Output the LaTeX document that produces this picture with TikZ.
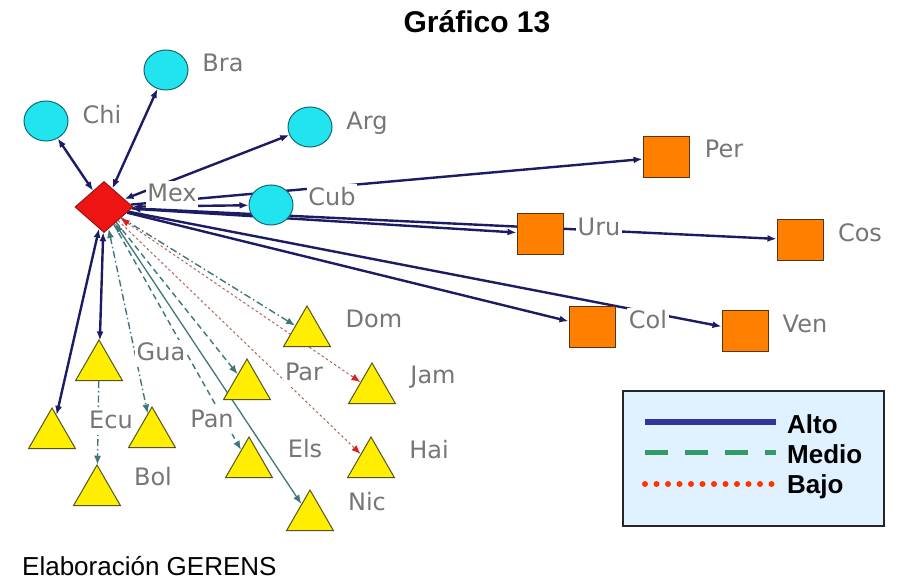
\documentclass[tikz,border=0pt]{standalone}
\usepackage{fontspec}
\newfontfamily\lblfont{DejaVu Sans}
\newfontfamily\arialfont{Liberation Sans}
\usetikzlibrary{shapes.geometric,arrows.meta}
\pgfdeclarelayer{bgfill}
\pgfdeclarelayer{edges}
\pgfdeclarelayer{lbls}
\pgfsetlayers{bgfill,edges,lbls,main}
\definecolor{navy}{RGB}{28,28,100}
\definecolor{tealedge}{RGB}{62,118,122}
\definecolor{redtip}{RGB}{220,30,30}
\definecolor{redline}{RGB}{175,100,95}
\definecolor{cyanfill}{RGB}{34,228,238}
\definecolor{cyanbord}{RGB}{20,105,115}
\definecolor{orangefill}{RGB}{255,128,0}
\definecolor{orangebord}{RGB}{90,50,20}
\definecolor{yellowfill}{RGB}{255,238,0}
\definecolor{yellowbord}{RGB}{85,85,30}
\definecolor{redfill}{RGB}{238,20,20}
\definecolor{redbord}{RGB}{150,20,20}
\definecolor{lblgray}{RGB}{118,118,118}
\definecolor{legfill}{RGB}{224,242,255}
\definecolor{legalto}{RGB}{51,51,153}
\definecolor{legmedio}{RGB}{51,153,102}
\definecolor{legbajo}{RGB}{255,51,0}
\begin{document}
\begin{tikzpicture}[x=1pt,y=-1pt,
  >={Latex[length=9pt,width=7pt]},
  mexshape/.style={diamond,draw=redbord,fill=redfill,line width=1pt,inner sep=0pt,minimum width=58pt,minimum height=51pt},
  circ/.style={ellipse,draw=cyanbord,fill=cyanfill,line width=1pt,inner sep=0pt,minimum width=44pt,minimum height=40pt},
  sq/.style={rectangle,draw=orangebord,fill=orangefill,line width=1pt,inner sep=0pt,minimum width=46pt,minimum height=41pt},
  tri/.style={regular polygon,regular polygon sides=3,draw=yellowbord,fill=yellowfill,line width=1pt,inner sep=0pt,minimum size=54pt},
  lbl/.style={anchor=base,fill=white,text=lblgray,inner sep=1.5pt,text height=19pt,text depth=5pt,font=\lblfont\fontsize{24}{28}\selectfont},
  alto/.style={draw=navy,line width=2.4pt},
  medio/.style={draw=tealedge,line width=1.4pt},
  mdashdot/.style={dash pattern=on 7pt off 3pt on 1.5pt off 3pt},
  mdashed/.style={dash pattern=on 6pt off 4pt},
  bajo/.style={draw=redline,line width=1pt,dash pattern=on 2.5pt off 2.5pt},
  legtext/.style={anchor=base west,inner sep=0pt,font=\arialfont\bfseries\fontsize{26}{30}\selectfont}
]
\begin{pgfonlayer}{bgfill}
\fill[white] (0,0) rectangle (899,580);
\end{pgfonlayer}
\useasboundingbox (0,0) rectangle (899,580);

% nodes
\node[mexshape] (mex) at (104,207) {};
\node[circ] (chi) at (46,121) {};
\node[circ] (bra) at (166,70) {};
\node[circ] (arg) at (310,127) {};
\node[circ] (cub) at (271,205) {};
\node[sq] (per) at (666,157) {};
\node[sq] (uru) at (540,234) {};
\node[sq] (cos) at (800,240) {};
\node[sq] (col) at (592,327) {};
\node[sq] (ven) at (745,331) {};
\node[tri] (dom) at (307,333) {};
\node[tri] (gua) at (99,367) {};
\node[tri] (par) at (247,386) {};
\node[tri] (jam) at (372,390) {};
\node[tri] (ecu) at (52,435) {};
\node[tri] (pan) at (152,434) {};
\node[tri] (els) at (249,464) {};
\node[tri] (hai) at (371,464) {};
\node[tri] (bol) at (97,492) {};
\node[tri] (nic) at (310,517) {};

% labels
\begin{pgfonlayer}{lbls}
\node[lbl] (lmex) at (172,202) {Mex};
\node[lbl] (lchi) at (102,124) {Chi};
\node[lbl] (lbra) at (223,72) {Bra};
\node[lbl] (larg) at (367,130) {Arg};
\node[lbl] (lcub) at (332,205) {Cub};
\node[lbl] (lper) at (724,158) {Per};
\node[lbl] (luru) at (599,235) {Uru};
\node[lbl] (lcos) at (860,241) {Cos};
\node[lbl] (lcol) at (648,328) {Col};
\node[lbl] (lven) at (805,332) {Ven};
\node[lbl] (ldom) at (374,327) {Dom};
\node[lbl] (lgua) at (161,360) {Gua};
\node[lbl] (lpar) at (304,380) {Par};
\node[lbl] (ljam) at (433,383) {Jam};
\node[lbl] (lecu) at (111,428) {Ecu};
\node[lbl] (lpan) at (212,427) {Pan};
\node[lbl] (lels) at (305,457) {Els};
\node[lbl] (lhai) at (429,458) {Hai};
\node[lbl] (lbol) at (153,485) {Bol};
\node[lbl] (lnic) at (367,510) {Nic};
\end{pgfonlayer}

% edges
\begin{pgfonlayer}{edges}
\draw[alto,<->] (mex) -- (chi);
\draw[alto,<->] (mex) -- (bra);
\draw[alto,<->] (mex) -- (arg);
\draw[alto,<->] (mex) -- (cub);
\draw[alto,->] (mex) -- (per);
\draw[alto,<->] (mex) -- (uru);
\draw[alto,->] (mex) -- (cos);
\draw[alto,->] (mex) -- (col);
\draw[alto,->] (mex) -- (ven);
\draw[alto,<->] (mex) -- (gua);
\draw[alto,<->] (mex) -- (ecu);
\draw[medio,mdashdot,<->] (mex) -- (pan);
\draw[medio,mdashed,->] (mex) -- (els);
\draw[medio,mdashed,->] (mex) -- (par);
\draw[medio,mdashdot,->] (mex) -- (dom);
\draw[medio,line width=1.3pt,<->] (mex) -- (nic);
\draw[medio,mdashdot,->] (gua) -- (bol);
\draw[bajo,{Latex[length=9pt,width=7pt,color=redtip]}-{Latex[length=9pt,width=7pt,color=redtip]}] (mex) -- (jam);
\draw[bajo,-{Latex[length=9pt,width=7pt,color=redtip]}] (mex) -- (hai);
\end{pgfonlayer}

% legend
\node[draw=black!85,fill=legfill,line width=2pt,minimum width=261pt,minimum height=135pt,inner sep=0pt] (legbox) at (753.5,458) {};
\coordinate (a1) at (645,422); \coordinate (a2) at (776,422);
\coordinate (m1) at (645,452); \coordinate (m2) at (776,452);
\coordinate (b1) at (645,484); \coordinate (b2) at (773,484);
\draw[legalto,line width=6pt] (a1) -- (a2);
\draw[legmedio,line width=5pt,dash pattern=on 23pt off 17pt] (m1) -- (m2);
\draw[legbajo,line width=6pt,line cap=round,dash pattern=on 0pt off 11.5pt] (b1) -- (b2);
\node[legtext] (talto) at (787,433) {Alto};
\node[legtext] (tmedio) at (787,463) {Medio};
\node[legtext] (tbajo) at (787,493) {Bajo};

% title and source
\node[anchor=base,inner sep=0pt,font=\arialfont\bfseries\fontsize{30}{34}\selectfont] (title) at (477,33) {Gráfico 13};
\node[anchor=base west,inner sep=0pt,font=\arialfont\fontsize{26}{30}\selectfont] (src) at (22,575) {Elaboración GERENS};
\end{tikzpicture}
\end{document}
